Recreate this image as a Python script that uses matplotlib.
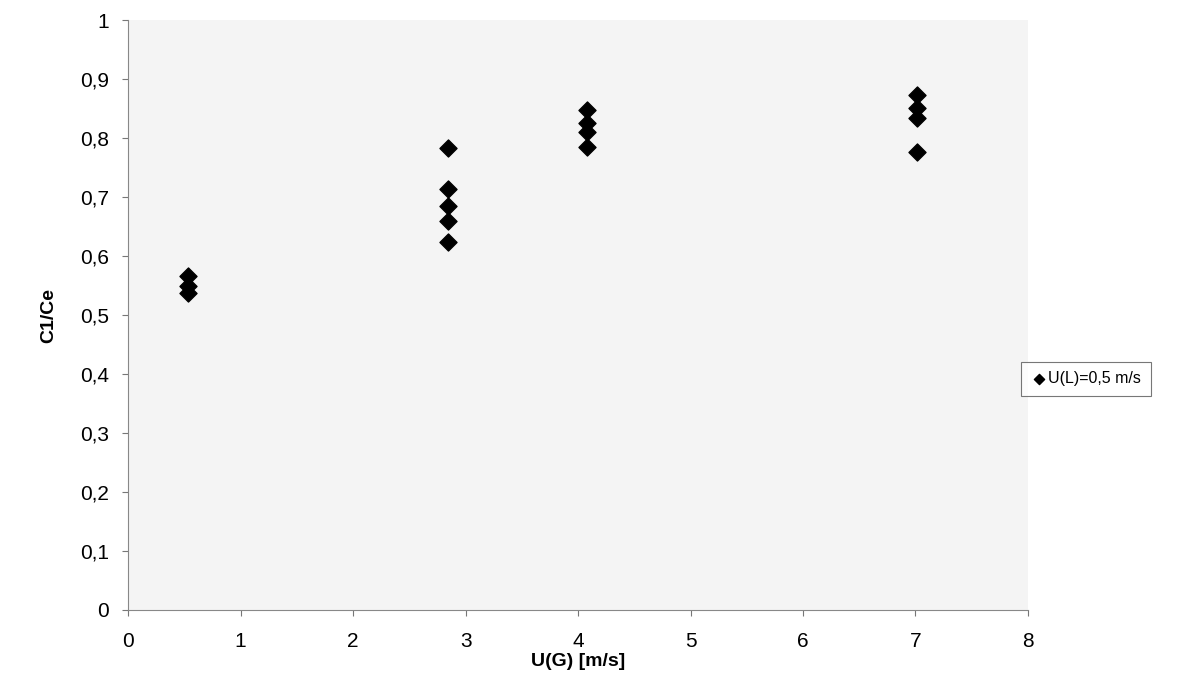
import matplotlib
matplotlib.use('Agg')
import matplotlib.pyplot as plt
from matplotlib.ticker import FuncFormatter

plt.rcParams['font.family'] = ['Liberation Sans', 'DejaVu Sans']

# measured points, U(L)=0,5 m/s
ug = [0.53, 0.53, 0.53,
      2.84, 2.84, 2.84, 2.84, 2.84,
      4.08, 4.08, 4.08, 4.08,
      7.01, 7.01, 7.01, 7.01]
c1_ce = [0.566, 0.549, 0.538,
         0.784, 0.714, 0.685, 0.660, 0.624,
         0.847, 0.825, 0.810, 0.785,
         0.873, 0.851, 0.834, 0.776]
series_label = 'U(L)=0,5 m/s'

fig = plt.figure(figsize=(11.87, 6.89), dpi=100)
ax = fig.add_axes([0.108, 0.1147, 0.758, 0.856])
ax.set_facecolor('#f4f4f4')

ax.scatter(ug, c1_ce, marker='D', s=75, color='black', label=series_label, zorder=3)

ax.set_xlim(0, 8)
ax.set_ylim(0, 1)
ax.set_xticks(range(0, 9))
ax.set_yticks([i / 10 for i in range(11)])


def comma(v, pos):
    s = ('%.1f' % v).rstrip('0').rstrip('.')
    return s.replace('.', ',')


ax.yaxis.set_major_formatter(FuncFormatter(comma))
ax.xaxis.set_major_formatter(FuncFormatter(comma))
ax.tick_params(labelsize=15, length=4, color='#777777')
ax.tick_params(axis='x', pad=12)
ax.tick_params(axis='y', pad=10)

for side in ['top', 'right']:
    ax.spines[side].set_visible(False)
for side in ['left', 'bottom']:
    ax.spines[side].set_color('#888888')

ax.set_xlabel('U(G) [m/s]', fontsize=14, fontweight='bold', labelpad=1)
ax.set_ylabel('C1/Ce', fontsize=14, fontweight='bold', labelpad=16)

leg = ax.legend(loc='center left', bbox_to_anchor=(1013 / 1187, 1 - 379 / 689),
                bbox_transform=fig.transFigure, fontsize=11.5, frameon=True,
                fancybox=False, handletextpad=0.1, borderpad=0.6,
                markerscale=0.6, handlelength=1.0)
leg.get_frame().set_edgecolor('#555555')
leg.get_frame().set_linewidth(0.8)

fig.savefig('out.png', dpi=100)
